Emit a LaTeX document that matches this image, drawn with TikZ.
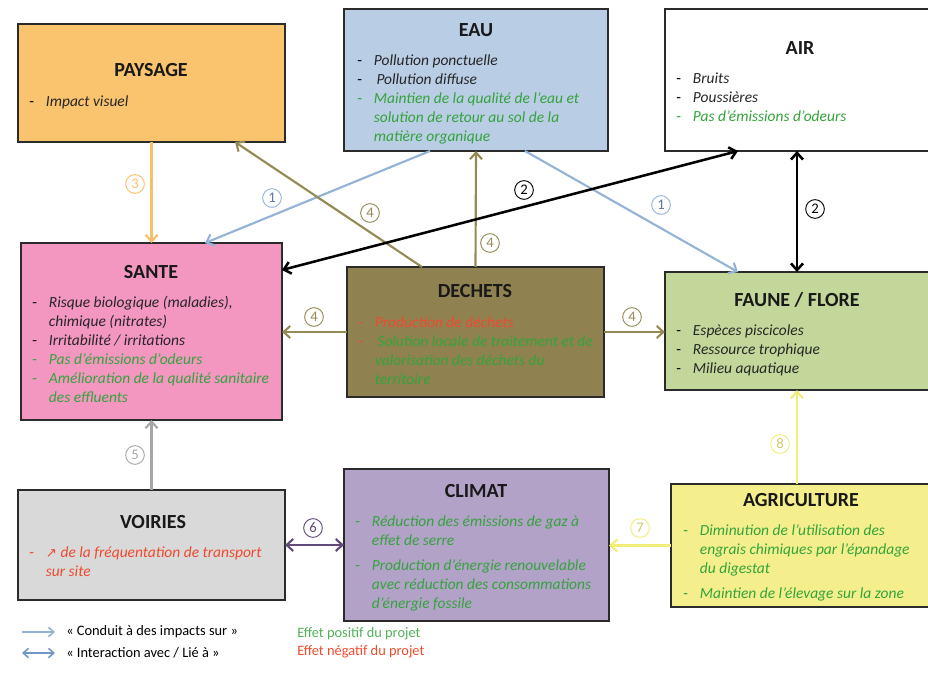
\documentclass[tikz,border=0pt]{standalone}
\usepackage{fontspec}
\setmainfont{Carlito}
\newfontfamily\symf{DejaVu Sans}
\usetikzlibrary{arrows.meta,calc}
\definecolor{cPay}{HTML}{FAC46E}
\definecolor{cEau}{HTML}{B9CDE5}
\definecolor{cSan}{HTML}{F396C0}
\definecolor{cDec}{HTML}{8F8250}
\definecolor{cFau}{HTML}{C4D79B}
\definecolor{cVoi}{HTML}{D9D9D9}
\definecolor{cCli}{HTML}{B2A2C7}
\definecolor{cAgr}{HTML}{F4EF8C}
\definecolor{cBorder}{HTML}{2B2B2B}
\definecolor{cG}{HTML}{34A33C}
\definecolor{cR}{HTML}{EE4A2E}
\definecolor{aBlue}{HTML}{95B3D7}
\definecolor{aBlueD}{HTML}{6F97CC}
\definecolor{aOlive}{HTML}{948A54}
\definecolor{aOrange}{HTML}{F9BE6A}
\definecolor{aGrey}{HTML}{A6A6A6}
\definecolor{aPurple}{HTML}{604A7B}
\definecolor{aYellow}{HTML}{F2EC78}
\newlength\bulw
\setlength\bulw{12.5pt}
\newcommand\bul[1]{\makebox[\bulw][l]{\textcolor{#1}{\upshape -}}}
\newcommand\bind{\hspace*{\bulw}}
\tikzset{
  box/.style 2 args={draw=cBorder, line width=1.5pt, minimum width=#1*0.75pt, minimum height=#2*0.75pt, inner sep=0pt, outer sep=0pt},
  ttl/.style={font=\fontsize{15}{17}\selectfont\bfseries, text=black!90, inner sep=0pt},
  lst/.style={font=\fontsize{11.6}{14.25}\selectfont\itshape, align=left, anchor=north west, inner sep=0pt, text=black!85},
  conn/.style={line width=1.6pt, -{Straight Barb[length=5pt,width=9pt]}},
  bi/.style={line width=1.6pt, {Straight Barb[length=5pt,width=9pt]}-{Straight Barb[length=5pt,width=9pt]}},
  num/.style={circle, draw=#1, text=#1, line width=0.7pt, minimum size=14pt, inner sep=0pt, font=\fontsize{11}{11}\selectfont},
  leg/.style={font=\fontsize{10.8}{12}\selectfont, anchor=west, inner sep=0pt},
}
\begin{document}
\begin{tikzpicture}[x=0.75pt,y=-0.75pt]
\useasboundingbox (0,0) rectangle (928,673);
% boxes
\node[box={267}{118}, fill=cPay] (pay) at (151.5,83) {};
\node[box={264}{142}, fill=cEau] (eau) at (476,80) {};
\node[box={266}{142}, fill=white] (air) at (798,80) {};
\node[box={261}{177}, fill=cSan] (san) at (151.5,331.5) {};
\node[box={257}{130}, fill=cDec] (dec) at (475.5,332) {};
\node[box={266}{118}, fill=cFau] (fau) at (798,331) {};
\node[box={267}{110}, fill=cVoi] (voi) at (151.5,545) {};
\node[box={265}{152}, fill=cCli] (cli) at (476.5,545) {};
\node[box={260}{123}, fill=cAgr] (agr) at (801,545.5) {};
% titles
\node[ttl] (payT) at (151,70) {PAYSAGE};
\node[ttl] (eauT) at (476,30) {EAU};
\node[ttl] (airT) at (800,48) {AIR};
\node[ttl] (sanT) at (151,272) {SANTE};
\node[ttl] (decT) at (475,291) {DECHETS};
\node[ttl] (fauT) at (797,300) {FAUNE / FLORE};
\node[ttl] (voiT) at (153,522) {VOIRIES};
\node[ttl] (cliT) at (476,491) {CLIMAT};
\node[ttl] (agrT) at (801,500) {AGRICULTURE};
% lists
\node[lst] (payL) at (29,95) {\bul{black}Impact visuel};
\node[lst] (eauL) at (357,54) {\bul{black}Pollution ponctuelle\\
\bul{black}\,Pollution diffuse\\
\bul{cG}\textcolor{cG}{Maintien de la qualité de l’eau et}\\
\bind\textcolor{cG}{solution de retour au sol de la}\\
\bind\textcolor{cG}{matière organique}};
\node[lst] (airL) at (676,73) {\bul{black}Bruits\\
\bul{black}Poussières\\
\bul{cG}\textcolor{cG}{Pas d’émissions d’odeurs}};
\node[lst] (sanL) at (32,296) {\bul{black}Risque biologique (maladies),\\
\bind chimique (nitrates)\\
\bul{black}Irritabilité / irritations\\
\bul{cG}\textcolor{cG}{Pas d’émissions d’odeurs}\\
\bul{cG}\textcolor{cG}{Amélioration de la qualité sanitaire}\\
\bind\textcolor{cG}{des effluents}};
\node[lst] (decL) at (358,316) {\bul{cR}\textcolor{cR}{Production de déchets}\\
\bul{cR}\textcolor{cG}{\,Solution locale de traitement et de}\\
\bind\textcolor{cG}{valorisation des déchets du}\\
\bind\textcolor{cG}{territoire}};
\node[lst] (fauL) at (676,324) {\bul{black}Espèces piscicoles\\
\bul{black}Ressource trophique\\
\bul{black}Milieu aquatique};
\node[lst] (voiL) at (29,546) {\bul{cR}\textcolor{cR}{{\symf\upshape\fontsize{10}{10}\selectfont ↗} de la fréquentation de transport}\\
\bind\textcolor{cR}{sur site}};
\node[lst] (cliL) at (355,515) {\bul{cG}\textcolor{cG}{Réduction des émissions de gaz à}\\
\bind\textcolor{cG}{effet de serre}\\[5pt]
\bul{cG}\textcolor{cG}{Production d’énergie renouvelable}\\
\bind\textcolor{cG}{avec réduction des consommations}\\
\bind\textcolor{cG}{d’énergie fossile}};
\node[lst] (agrL) at (683,524) {\bul{cG}\textcolor{cG}{Diminution de l’utilisation des}\\
\bind\textcolor{cG}{engrais chimiques par l’épandage}\\
\bind\textcolor{cG}{du digestat}\\[5pt]
\bul{cG}\textcolor{cG}{Maintien de l’élevage sur la zone}};
% connectors
\draw[conn, aOrange] (pay.south) -- (san.north);
\draw[conn, aBlue] ($(eau.south west)+(86,0)$) -- ($(san.north west)+(184,0)$);
\draw[conn, aBlue] ($(eau.south west)+(181,0)$) -- ($(fau.north west)+(73,0)$);
\draw[conn, aOlive] ($(dec.north west)+(75,0)$) -- ($(pay.south east)+(-50,0)$);
\draw[conn, aOlive] (dec.north) -- (eau.south);
\draw[bi, black, line width=1.9pt] ($(san.north east)+(0,27)$) -- ($(air.south west)+(73,0)$);
\draw[bi, black, line width=1.9pt] ($(air.south west)+(132,0)$) -- ($(fau.north west)+(132,0)$);
\draw[conn, aOlive] (dec.west) -- (san.east |- dec.west);
\draw[conn, aOlive] (dec.east) -- (fau.west |- dec.east);
\draw[conn, aGrey] (voi.north) -- (san.south);
\draw[bi, aPurple] (voi.east) -- (cli.west |- voi.east);
\draw[conn, aYellow] (agr.west) -- (cli.east |- agr.west);
\draw[conn, aYellow] ($(agr.north west)+(126,0)$) -- ($(fau.south west)+(132,0)$);
% number labels
\node[num=aOrange] (n3) at (135,184) {3};
\node[num=aBlue, text=aBlueD!80!black] (n1a) at (272,198) {1};
\node[num=aOlive] (n4a) at (370,213) {4};
\node[num=aOlive] (n4b) at (490,243) {4};
\node[num=black] (n2a) at (524,190) {2};
\node[num=aBlue, text=aBlueD!80!black] (n1b) at (661,205) {1};
\node[num=black] (n2b) at (815,209) {2};
\node[num=aOlive] (n4c) at (314,317) {4};
\node[num=aOlive] (n4d) at (632,317) {4};
\node[num=aGrey] (n5) at (135,455) {5};
\node[num=aPurple] (n6) at (313,528) {6};
\node[num=aYellow, text=aYellow!85!black] (n7) at (640,528) {7};
\node[num=aYellow, text=aYellow!85!black] (n8) at (780,444) {8};
% legend
\coordinate (lg1a) at (22,632);
\coordinate (lg1b) at (55,632);
\coordinate (lg2a) at (22,653);
\coordinate (lg2b) at (55,653);
\draw[aBlue, line width=1.2pt, -{Straight Barb[length=4pt,width=7pt]}] (lg1a) -- (lg1b);
\draw[aBlueD, line width=1.2pt, {Straight Barb[length=4pt,width=7pt]}-{Straight Barb[length=4pt,width=7pt]}] (lg2a) -- (lg2b);
\node[leg] (lgt1) at (66,632) {« Conduit à des impacts sur »};
\node[leg] (lgt2) at (66,653) {« Interaction avec / Lié à »};
\node[leg, text=cG!85!white] (lgt3) at (297,634) {Effet positif du projet};
\node[leg, text=cR] (lgt4) at (297,652) {Effet négatif du projet};
\end{tikzpicture}
\end{document}
